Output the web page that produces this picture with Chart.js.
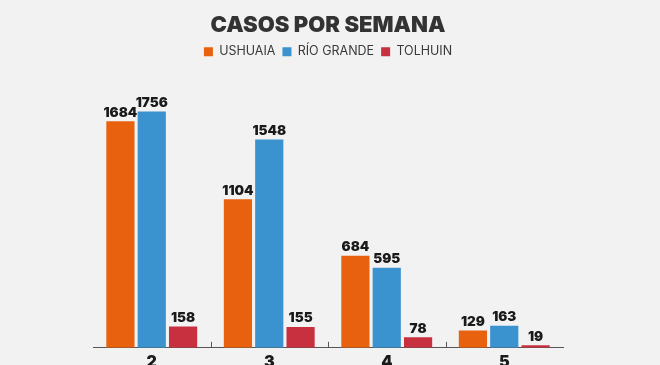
<!DOCTYPE html>
<html>
<head>
<meta charset="utf-8">
<script src="https://cdn.jsdelivr.net/npm/chart.js@4"></script>
<style>
  html, body { margin: 0; padding: 0; background: #f2f2f2; overflow: hidden; }
  .chart__wrapper { width: 660px; height: 377px; position: relative; }
</style>
</head>
<body>
<div class="chart__wrapper">
  <canvas id="casos-chart"></canvas>
</div>
<script>
  const semanas = ["2", "3", "4", "5"];
  const ushuaia = [1684, 1104, 684, 129];
  const rioGrande = [1756, 1548, 595, 163];
  const tolhuin = [158, 155, 78, 19];

  const colors = {
    text: "#1a1a1a",
    legend: "#3a3a3a",
    axis: "#555555",
    ushuaia: "#e8610f",
    rioGrande: "#3a92cf",
    tolhuin: "#c8303f",
  };

  // numbers on top of every bar
  const valueLabels = {
    id: "valueLabels",
    afterDatasetsDraw(chart) {
      const ctx = chart.ctx;
      ctx.save();
      ctx.font = "900 13.5px Inter";
      ctx.fillStyle = colors.text;
      ctx.textAlign = "center";
      ctx.textBaseline = "bottom";
      chart.data.datasets.forEach((ds, i) => {
        chart.getDatasetMeta(i).data.forEach((bar, j) => {
          ctx.fillText(ds.data[j], bar.x, bar.y - 2);
        });
      });
      ctx.restore();
    },
  };

  // small ticks between the week groups, pointing up from the axis
  const groupTicks = {
    id: "groupTicks",
    afterDraw(chart) {
      const x = chart.scales.x;
      const ctx = chart.ctx;
      ctx.save();
      ctx.strokeStyle = colors.axis;
      ctx.lineWidth = 1;
      for (let i = 1; i < semanas.length; i++) {
        const px = Math.round((x.getPixelForTick(i - 1) + x.getPixelForTick(i)) / 2) + 0.5;
        ctx.beginPath();
        ctx.moveTo(px, x.top);
        ctx.lineTo(px, x.top - 6);
        ctx.stroke();
      }
      ctx.restore();
    },
  };

  const chartElement = document.getElementById("casos-chart").getContext("2d");

  new Chart(chartElement, {
    type: "bar",
    data: {
      labels: semanas,
      datasets: [
        { label: "USHUAIA", data: ushuaia, backgroundColor: colors.ushuaia },
        { label: "RÍO GRANDE", data: rioGrande, backgroundColor: colors.rioGrande },
        { label: "TOLHUIN", data: tolhuin, backgroundColor: colors.tolhuin },
      ],
    },
    options: {
      responsive: true,
      maintainAspectRatio: false,
      animation: false,
      layout: {
        padding: { left: 93, right: 97, top: 0, bottom: 0 },
      },
      scales: {
        x: {
          grid: { display: false, drawTicks: false },
          border: { display: true, color: colors.axis, width: 1 },
          ticks: {
            color: colors.text,
            font: { family: "Inter", size: 16, weight: "900" },
            padding: 5,
          },
        },
        y: {
          display: false,
          min: 0,
          max: 2080,
        },
      },
      plugins: {
        title: {
          display: true,
          text: "CASOS POR SEMANA",
          color: "#333333",
          font: { family: "Inter", size: 22, weight: "900" },
          padding: { top: 12, bottom: 0 },
        },
        legend: {
          display: true,
          labels: {
            color: colors.legend,
            boxWidth: 9,
            boxHeight: 9,
            padding: 7,
            font: { family: "Inter", size: 12.5 },
          },
        },
        tooltip: { enabled: false },
      },
    },
    plugins: [valueLabels, groupTicks],
  });
</script>
</body>
</html>
